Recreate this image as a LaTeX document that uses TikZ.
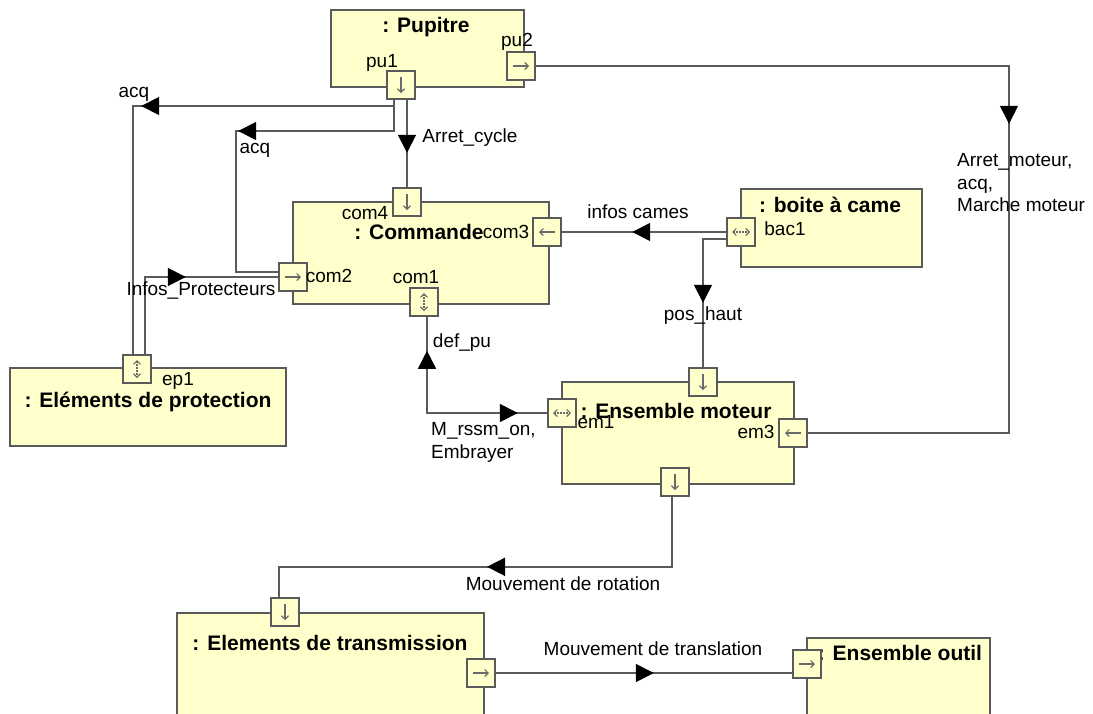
\documentclass[tikz,border=0pt]{standalone}
\usepackage{fontspec}
\setmainfont{Liberation Sans}
\usetikzlibrary{arrows.meta,decorations.markings,calc}
\definecolor{boxfill}{HTML}{FFFFCC}
\definecolor{edgegray}{HTML}{5A5A5A}
\definecolor{glyphgray}{HTML}{6A6A6A}
\tikzset{
  flowtip/.tip={Triangle[length=18pt,width=18pt,color=black]},
  block/.style={draw=edgegray,fill=boxfill,line width=1.6pt,anchor=north west,inner sep=0pt},
  port/.style={draw=edgegray,fill=boxfill,line width=1.6pt,minimum size=28pt,inner sep=0pt},
  title/.style={font=\fontsize{21}{24}\selectfont\bfseries,inner sep=0pt,anchor=base},
  lbl/.style={font=\fontsize{19}{22}\selectfont,inner sep=0pt,anchor=base},
  mlbl/.style={font=\fontsize{19}{22.5}\selectfont,inner sep=0pt,anchor=north west,align=left},
  conn/.style={draw=edgegray,line width=1.6pt},
  flow/.style={conn,postaction={decorate},decoration={markings,mark=at position #1 with {\arrow{flowtip}}}},
  flowboth/.style 2 args={conn,postaction={decorate},decoration={markings,
      mark=at position #1 with {\arrowreversed{flowtip}},
      mark=at position #2 with {\arrow{flowtip}}}},
  glyph/.style={draw=glyphgray,line width=1.1pt,-{Straight Barb[length=3.5pt,width=7pt]}},
  glyphtwo/.style={draw=glyphgray,line width=1.1pt,{Straight Barb[length=3.5pt,width=7pt]}-{Straight Barb[length=3.5pt,width=7pt]},dash pattern=on 1.5pt off 1.5pt},
}
\newcommand\portdown[1]{\draw[glyph] ($(#1)+(0,-8)$) -- ($(#1)+(0,8)$);}
\newcommand\portright[1]{\draw[glyph] ($(#1)+(-8,0)$) -- ($(#1)+(8,0)$);}
\newcommand\portleft[1]{\draw[glyph] ($(#1)+(8,0)$) -- ($(#1)+(-8,0)$);}
\newcommand\portvv[1]{\draw[glyphtwo] ($(#1)+(0,-9)$) -- ($(#1)+(0,9)$);}
\newcommand\porthh[1]{\draw[glyphtwo] ($(#1)+(-9,0)$) -- ($(#1)+(9,0)$);}
\begin{document}
\begin{tikzpicture}[x=1pt,y=-1pt]
\useasboundingbox (0,0) rectangle (1093,713);
\fill[white] (0,0) rectangle (1093,713);
\clip (0,0) rectangle (1093,713);

% blocks
\node[block,minimum width=193pt,minimum height=77pt] (pup) at (330,9) {};
\node[block,minimum width=256pt,minimum height=102pt] (com) at (292,201) {};
\node[block,minimum width=181pt,minimum height=78pt] (bac) at (740,188) {};
\node[block,minimum width=232pt,minimum height=102pt] (em) at (561,381) {};
\node[block,minimum width=276pt,minimum height=78pt] (ep) at (9,367) {};
\node[block,minimum width=307pt,minimum height=120pt] (et) at (176,612) {};
\node[block,minimum width=183pt,minimum height=100pt] (eo) at (806,637) {};

% titles
\node[title] (pupT) at (426,32) {: Pupitre};
\node[title] (comT) at (419,239) {: Commande};
\node[title] (bacT) at (830,212) {: boite à came};
\node[title] (emT0) at (676,418) {: Ensemble moteur};
\node[title] (epT) at (148,407) {: Eléments de protection};
\node[title] (etT0) at (330,650) {: Elements de transmission};
\node[title] (eoT) at (900,660) {: Ensemble outil};

% ports
\node[port] (pu1) at (401,85) {};
\node[port] (pu2) at (521,66) {};
\node[port] (com4) at (407,202) {};
\node[port] (com3) at (547,232) {};
\node[port] (com2) at (293,277) {};
\node[port] (com1) at (424,302) {};
\node[port] (bac1) at (741,232) {};
\node[port] (emT) at (703,382) {};
\node[port] (em1) at (562,413) {};
\node[port] (em3) at (793,433) {};
\node[port] (emB) at (675,482) {};
\node[port] (ep1) at (137,369) {};
\node[port] (etT) at (285,612) {};
\node[port] (etR) at (481,673) {};
\node[port] (eo1) at (807,664) {};

\portdown{pu1} \portright{pu2} \portdown{com4} \portleft{com3}
\portright{com2} \portvv{com1} \porthh{bac1} \portdown{emT}
\porthh{em1} \portleft{em3} \portdown{emB} \portvv{ep1}
\portdown{etT} \portright{etR} \portright{eo1}

% port labels
\node[lbl] (lpu1) at (382,67) {pu1};
\node[lbl] (lpu2) at (517,46) {pu2};
\node[lbl] (lcom4) at (365,219) {com4};
\node[lbl] (lcom3) at (506,238) {com3};
\node[lbl] (lcom2) at (329,282) {com2};
\node[lbl] (lcom1) at (416,283) {com1};
\node[lbl] (lbac1) at (785,235) {bac1};
\node[lbl] (lem1) at (596,428) {em1};
\node[lbl] (lem3) at (756,438) {em3};
\node[lbl] (lep1) at (178,385) {ep1};

% connectors
\draw[flow=259pt] ([xshift=-7pt]pu1.south) -- (394,106) -| ([xshift=-4pt]ep1.north);
\draw[flow=187pt] ([xshift=-7pt]pu1.south) -- (394,131) -| (236,272) -- ([yshift=5pt]com2.west);
\draw[flow=53pt] (com4.north |- pu1.south) -- (com4.north);
\draw[flow=531pt] (pu2.east) -- (1009,66) |- (em3.east);
\draw[flow=94pt] (bac1.west) -- (com3.east);
\draw[flow=87pt] ([yshift=-7pt]bac1.west) -| (emT.north);
\draw[flowboth={34pt}{187pt}] ([xshift=3pt]com1.south) |- (em1.west);
\draw[flow=118pt] ([xshift=8pt]ep1.north) |- (com2.west);
\draw[flow=255pt] ([xshift=-3pt]emB.south) -- ++(0,70) -| ([xshift=-6pt]etT.north);
\draw[flow=158pt] (etR.east) -- (etR.east -| eo1.west);

% connector labels
\node[lbl] (lacq1) at (134,97) {acq};
\node[lbl] (lacq2) at (255,153) {acq};
\node[lbl] (larret) at (470,142) {Arret\_cycle};
\node[lbl] (linfos) at (638,218) {infos cames};
\node[lbl] (lpos) at (703,320) {pos\_haut};
\node[lbl] (lprot) at (201,295) {Infos\_Protecteurs};
\node[lbl] (ldef) at (462,347) {def\_pu};
\node[mlbl] (lmrssm) at (431,422.5) {M\_rssm\_on,\\Embrayer};
\node[mlbl] (lmot) at (957,153.5) {Arret\_moteur,\\acq,\\Marche moteur};
\node[lbl] (lrot) at (563,590) {Mouvement de rotation};
\node[lbl] (ltrans) at (653,655) {Mouvement de translation};
\end{tikzpicture}
\end{document}
